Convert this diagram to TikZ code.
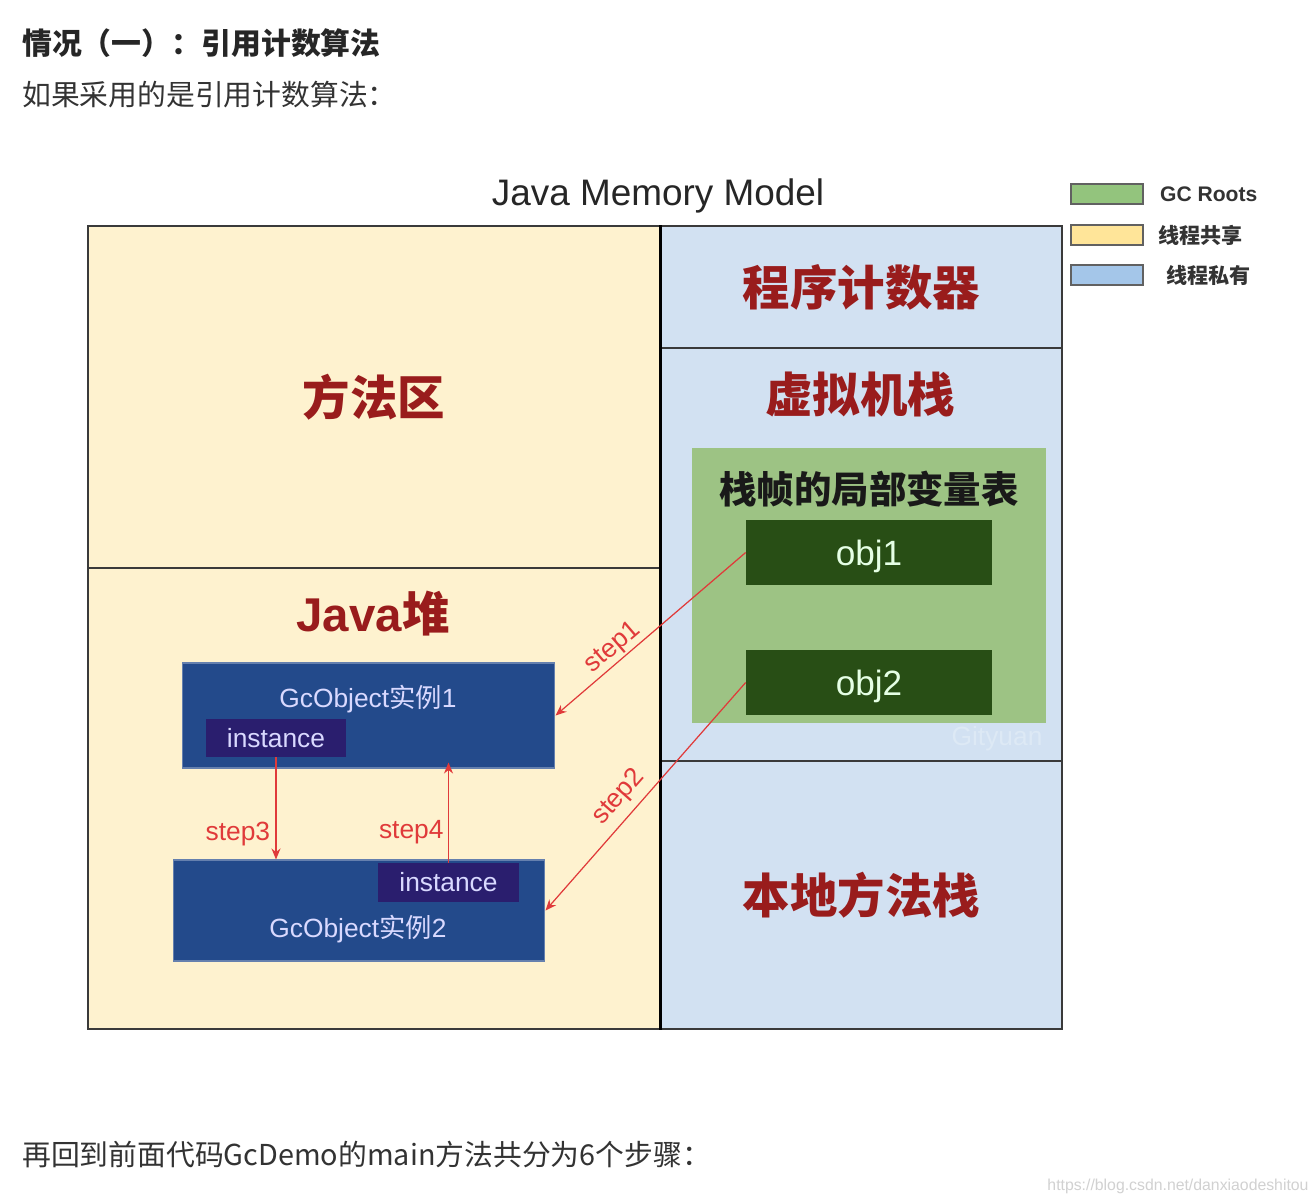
\documentclass[tikz,border=0pt]{standalone}
\usepackage{fontspec}
\setmainfont{Liberation Sans}
\newfontfamily\cjk{Noto Sans CJK SC}
\usepackage{tikz}
\usetikzlibrary{arrows.meta, positioning, calc}

\definecolor{shared}{HTML}{FEF2CF}
\definecolor{private}{HTML}{D2E1F2}
\definecolor{rootgreen}{HTML}{9DC384}
\definecolor{objgreen}{HTML}{284E15}
\definecolor{gcblue}{HTML}{234A8B}
\definecolor{instpurple}{HTML}{2A1E6E}
\definecolor{titlered}{HTML}{991C1C}
\definecolor{stepred}{HTML}{E03A3A}
\definecolor{lgreen}{HTML}{93C47D}
\definecolor{lyellow}{HTML}{FFE599}
\definecolor{lblue}{HTML}{A4C6E9}
\definecolor{edge}{HTML}{3A3A3A}

\begin{document}
\begin{tikzpicture}[
    x=0.02cm, y=-0.02cm,
    reg/.style={draw=edge, line width=1.1pt, anchor=north west, inner sep=0pt},
    rtitle/.style={font=\cjk\bfseries\fontsize{27}{30}\selectfont, text=titlered},
    obj/.style={fill=objgreen, minimum width=4.92cm, minimum height=1.3cm, inner sep=0pt,
      text depth=0pt, text=white!90!green, font=\fontsize{20}{22}\selectfont},
    gco/.style={fill=gcblue, draw=gcblue!70!white, line width=0.6pt, inner sep=0pt},
    gctxt/.style={text=white!85!blue, font=\fontsize{15}{17}\selectfont},
    inst/.style={fill=instpurple, inner sep=0pt, text=white!85!blue, font=\fontsize{15}{17}\selectfont},
    arr/.style={-{Stealth[length=2.2mm, width=1.8mm]}, draw=stepred, line width=0.7pt},
    steplab/.style={text=stepred, inner sep=1pt, font=\fontsize{15}{17}\selectfont},
    leg/.style={draw=edge!80, line width=0.9pt, minimum width=1.44cm, minimum height=0.4cm, inner sep=0pt},
    legtxt/.style={font=\bfseries\fontsize{12}{14}\selectfont, text=black!80, inner sep=0pt},
  ]
    \useasboundingbox[fill=white] (0,0) rectangle (1316,1204);

    % text around the picture
    \node[anchor=west, font=\cjk\bfseries\fontsize{17}{20}\selectfont, text=black!85] (head) at (16,43) {情况（一）：引用计数算法};
    \node[anchor=west, font=\cjk\fontsize{16.4}{20}\selectfont, text=black!80] (intro) at (16,95) {如果采用的是引用计数算法：};
    \node[anchor=west, font=\cjk\fontsize{16.4}{20}\selectfont, text=black!80] (outro) at (16,1154) {再回到前面代码GcDemo的main方法共分为6个步骤：};
    \node[font=\fontsize{9}{10}\selectfont, text=black!18] (wm) at (1178,1186) {https://blog.csdn.net/danxiaodeshitou};

    % title
    \node[font=\fontsize{21}{24}\selectfont, text=black!85] (jmm) at (658,196) {Java Memory Model};

    % thread shared regions
    \node[reg, fill=shared, minimum width=11.44cm, minimum height=6.84cm, rtitle] (marea) at (87,225) {方法区};
    \node[reg, fill=shared, minimum width=11.44cm, minimum height=9.22cm] (heap) at (87,567) {};
    \node[rtitle, font=\bfseries\fontsize{27}{30}\selectfont] (heapt) at (373,614) {Java{\cjk 堆}};

    % thread private regions
    \node[reg, fill=private, minimum width=8.02cm, minimum height=2.44cm, rtitle] (pc) at (660,225) {程序计数器};
    \node[reg, fill=private, minimum width=8.02cm, minimum height=8.26cm] (vms) at (660,347) {};
    \node[rtitle] (vmst) at (860,394) {虚拟机栈};
    \node[reg, fill=private, minimum width=8.02cm, minimum height=5.36cm, rtitle] (nms) at (660,760) {本地方法栈};
    \draw[black, line width=1.7pt] (marea.north east) -- (heap.south east);

    % local variable table
    \node[fill=rootgreen, anchor=north west, minimum width=7.08cm, minimum height=5.5cm, inner sep=0pt] (lvt) at (692,448) {};
    \node[font=\cjk\bfseries\fontsize{21.3}{24}\selectfont, text=black!90] (lvtt) at (869,489) {栈帧的局部变量表};
    \node[obj] (obj1) at (869,552.5) {obj1};
    \node[obj] (obj2) at (869,682.5) {obj2};
    \node[font=\fontsize{15}{17}\selectfont, text=white!25!private] (gity) at (997,739) {Gityuan};

    % heap objects
    \node[gco, minimum width=7.46cm, minimum height=2.1cm] (gc1) at (368.5,715.5) {};
    \node[gctxt] (gc1t) at (368,699) {GcObject{\cjk 实例}1};
    \node[inst, minimum width=2.8cm, minimum height=0.76cm] (inst1) at (276,738) {instance};
    \node[gco, minimum width=7.44cm, minimum height=2.02cm] (gc2) at (359,910.5) {};
    \node[gctxt] (gc2t) at (358,929) {GcObject{\cjk 实例}2};
    \node[inst, minimum width=2.82cm, minimum height=0.78cm] (inst2) at (448.5,882.5) {instance};

    % references
    \draw[arr] (obj1.west) -- (gc1.east) node[steplab, sloped, above=0pt, pos=0.65] {step1};
    \draw[arr] (obj2.west) -- (gc2.east) node[steplab, sloped, above=3pt, pos=0.56] {step2};
    \draw[arr] (inst1.south) -- (inst1.south |- gc2.north) node[steplab, left=2pt, pos=0.75] {step3};
    \draw[arr] (inst2.north) -- ($(inst2.north |- gc1.south)+(0,-6)$) node[steplab, left=1.5pt, pos=0.3] {step4};

    % legend
    \node[leg, fill=lgreen] (lg1) at (1107,194) {};
    \node[leg, fill=lyellow] (lg2) at (1107,235) {};
    \node[leg, fill=lblue] (lg3) at (1107,275) {};
    \node[legtxt, right=0.32cm of lg1] (lt1) {GC Roots};
    \node[legtxt, right=0.28cm of lg2, font=\cjk\bfseries\fontsize{12}{14}\selectfont] (lt2) {线程共享};
    \node[legtxt, right=0.44cm of lg3, font=\cjk\bfseries\fontsize{12}{14}\selectfont] (lt3) {线程私有};
  \end{tikzpicture}
\end{document}
